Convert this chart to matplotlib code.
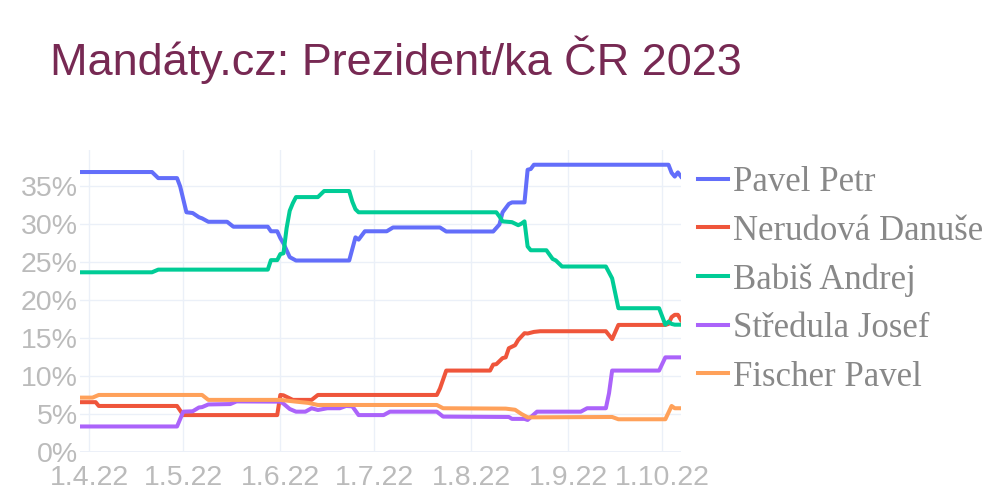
import matplotlib
matplotlib.use("Agg")
import matplotlib.pyplot as plt
import matplotlib.dates as mdates
import pandas as pd
from matplotlib import font_manager

# ---------------- data ----------------
pavel_dates = ["2022-03-29", "2022-04-21", "2022-04-23", "2022-04-29", "2022-04-30", "2022-05-02",
               "2022-05-04", "2022-05-06", "2022-05-07", "2022-05-09", "2022-05-15", "2022-05-17",
               "2022-05-28", "2022-05-29", "2022-05-31", "2022-06-01", "2022-06-02", "2022-06-04",
               "2022-06-06", "2022-06-23", "2022-06-25", "2022-06-26", "2022-06-28", "2022-07-05",
               "2022-07-07", "2022-07-22", "2022-07-24", "2022-08-08", "2022-08-10", "2022-08-11",
               "2022-08-13", "2022-08-14", "2022-08-18", "2022-08-19", "2022-08-20", "2022-08-21",
               "2022-10-03", "2022-10-04", "2022-10-05", "2022-10-06", "2022-10-07"]
pavel_vals = [36.9, 36.9, 36.1, 36.1, 35.0, 31.6,
              31.5, 30.95, 30.8, 30.35, 30.35, 29.7,
              29.7, 29.1, 29.1, 28.2, 27.5, 25.7,
              25.25, 25.25, 28.3, 28.0, 29.1, 29.1,
              29.6, 29.6, 29.07, 29.07, 30.0, 31.6,
              32.7, 32.9, 32.9, 37.2, 37.3, 37.86,
              37.86, 36.8, 36.3, 36.85, 36.3]

nerudova_dates = ["2022-03-29", "2022-04-03", "2022-04-04", "2022-04-29", "2022-05-01", "2022-05-31",
                  "2022-06-01", "2022-06-02", "2022-06-05", "2022-06-11", "2022-06-13", "2022-07-21",
                  "2022-07-22", "2022-07-24", "2022-08-07", "2022-08-08", "2022-08-09", "2022-08-11",
                  "2022-08-12", "2022-08-13", "2022-08-15", "2022-08-16", "2022-08-18", "2022-08-19",
                  "2022-08-21", "2022-08-23", "2022-09-13", "2022-09-15", "2022-09-17", "2022-10-02",
                  "2022-10-03", "2022-10-04", "2022-10-05", "2022-10-06", "2022-10-07"]
nerudova_vals = [6.6, 6.6, 6.1, 6.1, 4.9, 4.9,
                 7.55, 7.5, 6.9, 6.9, 7.55, 7.55,
                 8.4, 10.76, 10.76, 11.55, 11.6, 12.4,
                 12.5, 13.7, 14.1, 14.8, 15.68, 15.64,
                 15.85, 15.94, 15.94, 14.9, 16.77, 16.77,
                 16.9, 17.8, 18.1, 18.1, 17.4]

babis_dates = ["2022-03-29", "2022-04-21", "2022-04-23", "2022-05-28", "2022-05-29", "2022-05-31",
               "2022-06-01", "2022-06-02", "2022-06-03", "2022-06-04", "2022-06-05", "2022-06-06",
               "2022-06-13", "2022-06-15", "2022-06-23", "2022-06-24", "2022-06-25", "2022-06-26",
               "2022-08-09", "2022-08-10", "2022-08-11", "2022-08-14", "2022-08-16", "2022-08-17",
               "2022-08-18", "2022-08-19", "2022-08-20", "2022-08-25", "2022-08-27", "2022-08-28",
               "2022-08-30", "2022-09-13", "2022-09-15", "2022-09-17", "2022-09-30", "2022-10-02",
               "2022-10-03", "2022-10-04", "2022-10-05", "2022-10-07"]
babis_vals = [23.7, 23.7, 24.05, 24.05, 25.3, 25.3,
              26.1, 26.2, 29.5, 31.8, 32.8, 33.6,
              33.6, 34.4, 34.4, 33.0, 32.0, 31.6,
              31.6, 31.05, 30.4, 30.3, 29.9, 30.1,
              30.4, 27.1, 26.6, 26.6, 25.45, 25.26,
              24.46, 24.46, 22.9, 18.97, 18.97, 16.8,
              17.2, 16.9, 16.8, 16.8]

stredula_dates = ["2022-03-29", "2022-04-29", "2022-05-01", "2022-05-04", "2022-05-06", "2022-05-07",
                  "2022-05-09", "2022-05-16", "2022-05-18", "2022-06-01", "2022-06-02", "2022-06-04",
                  "2022-06-06", "2022-06-09", "2022-06-11", "2022-06-13", "2022-06-16", "2022-06-20",
                  "2022-06-22", "2022-06-24", "2022-06-26", "2022-07-04", "2022-07-06", "2022-07-21",
                  "2022-07-23", "2022-08-13", "2022-08-14", "2022-08-18", "2022-08-19", "2022-08-22",
                  "2022-09-05", "2022-09-07", "2022-09-13", "2022-09-14", "2022-09-15", "2022-09-30",
                  "2022-10-02", "2022-10-07"]
stredula_vals = [3.4, 3.4, 5.35, 5.4, 5.9, 5.95,
                 6.3, 6.35, 6.7, 6.67, 6.4, 5.7,
                 5.35, 5.35, 5.8, 5.57, 5.8, 5.8,
                 6.1, 6.05, 4.9, 4.9, 5.35, 5.35,
                 4.7, 4.65, 4.4, 4.4, 4.26, 5.35,
                 5.35, 5.8, 5.8, 7.77, 10.76, 10.76,
                 12.5, 12.5]

fischer_dates = ["2022-03-29", "2022-04-02", "2022-04-04", "2022-05-07", "2022-05-09", "2022-06-01",
                 "2022-06-06", "2022-06-10", "2022-06-13", "2022-07-21", "2022-07-23", "2022-08-12",
                 "2022-08-15", "2022-08-17", "2022-08-19", "2022-09-15", "2022-09-17", "2022-10-02",
                 "2022-10-04", "2022-10-05", "2022-10-07"]
fischer_vals = [7.2, 7.2, 7.55, 7.55, 6.9, 6.9,
                6.67, 6.5, 6.23, 6.23, 5.8, 5.75,
                5.6, 5.05, 4.6, 4.65, 4.35, 4.35,
                6.1, 5.8, 5.8]

series_names = ["Pavel Petr", "Nerudová Danuše", "Babiš Andrej", "Středula Josef", "Fischer Pavel"]
series_colors = ["#636efa", "#EF553B", "#00cc96", "#ab63fa", "#FFA15A"]
series_data = [(pavel_dates, pavel_vals), (nerudova_dates, nerudova_vals), (babis_dates, babis_vals),
               (stredula_dates, stredula_vals), (fischer_dates, fischer_vals)]

x_tick_dates = ["2022-04-01", "2022-05-01", "2022-06-01", "2022-07-01", "2022-08-01", "2022-09-01", "2022-10-01"]
x_tick_labels = ["1.4.22", "1.5.22", "1.6.22", "1.7.22", "1.8.22", "1.9.22", "1.10.22"]
y_ticks = [0, 5, 10, 15, 20, 25, 30, 35]
y_tick_labels = ["0%", "5%", "10%", "15%", "20%", "25%", "30%", "35%"]
title_text = "Mandáty.cz: Prezident/ka ČR 2023"

# ---------------- figure ----------------
available = {f.name for f in font_manager.fontManager.ttflist}
title_family = ["Liberation Sans Narrow", "Liberation Sans", "DejaVu Sans"] if "Liberation Sans Narrow" in available else ["Liberation Sans", "DejaVu Sans"]

fig = plt.figure(figsize=(10, 5), dpi=100)
ax = fig.add_axes([0.080, 0.0954, 0.601, 0.6046])

grid_color = "#ebf0f8"
tick_color = "#bbbbbb"

for (d, v), name, col in zip(series_data, series_names, series_colors):
    ax.plot(pd.to_datetime(d), v, color=col, lw=2.9, label=name, solid_joinstyle="round", zorder=3)

ax.set_xlim(pd.Timestamp("2022-03-29"), pd.Timestamp("2022-10-07"))
ax.set_ylim(0, 39.8)

ax.set_xticks(pd.to_datetime(x_tick_dates))
ax.set_xticklabels(x_tick_labels)
ax.set_yticks(y_ticks)
ax.set_yticklabels(y_tick_labels)

for lab in ax.get_xticklabels() + ax.get_yticklabels():
    lab.set_fontfamily(["Liberation Sans", "DejaVu Sans"])
    lab.set_fontsize(20.5)
    lab.set_color(tick_color)

ax.tick_params(axis="both", length=0)
ax.tick_params(axis="y", pad=1.5)
ax.tick_params(axis="x", pad=9)

ax.grid(True, color=grid_color, lw=1.0, zorder=0)
ax.axhline(0, color=grid_color, lw=2.0, zorder=1)
for s in ax.spines.values():
    s.set_visible(False)

leg = fig.legend(loc="upper left", bbox_to_anchor=(0.698, 0.668), frameon=False,
                 prop={"family": ["Liberation Serif", "DejaVu Serif"], "size": 25},
                 handlelength=0.86, handletextpad=0.14, labelspacing=0.447, borderaxespad=0, borderpad=0)
for t in leg.get_texts():
    t.set_color("#888888")

fig.text(0.050, 0.850, title_text, fontsize=32.4, color="#772953", family=title_family,
         ha="left", va="baseline")

fig.savefig("out.png", dpi=100)
